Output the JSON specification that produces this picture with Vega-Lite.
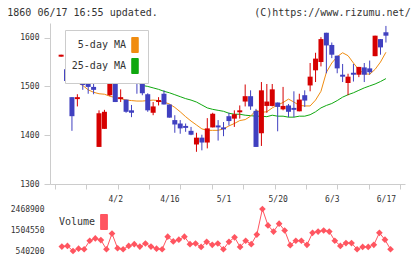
{
  "$schema": "https://vega.github.io/schema/vega-lite/v6.json",
  "padding": {"left": 7, "top": 8, "right": 0, "bottom": 0},
  "title": {"text": "1860 06/17 16:55 updated.\u00a0\u00a0\u00a0\u00a0\u00a0\u00a0\u00a0\u00a0\u00a0\u00a0\u00a0\u00a0\u00a0\u00a0\u00a0\u00a0(C)https://www.rizumu.net/", "anchor": "start", "frame": "bounds", "dx": -3, "offset": 5},
  "data": {"values": [
    {"i":1,"o":1561,"h":1565,"l":1561,"c":1565,"m5":null,"m25":null,"v":null},
    {"i":2,"o":1535,"h":1543,"l":1511,"c":1511,"m5":null,"m25":1552,"v":742000},
    {"i":3,"o":1478,"h":1478,"l":1409,"c":1439,"m5":1519,"m25":1549,"v":775000},
    {"i":4,"o":1474,"h":1484,"l":1459,"c":1478,"m5":1508,"m25":1546,"v":540200},
    {"i":5,"o":1514,"h":1519,"l":1493,"c":1503,"m5":1502,"m25":1543,"v":648000},
    {"i":6,"o":1512,"h":1512,"l":1485,"c":1499,"m5":1493,"m25":1540,"v":620000},
    {"i":7,"o":1499,"h":1507,"l":1484,"c":1493,"m5":1488,"m25":1537,"v":1010000},
    {"i":8,"o":1376,"h":1451,"l":1376,"c":1445,"m5":1485,"m25":1534,"v":1119000},
    {"i":9,"o":1413,"h":1452,"l":1413,"c":1448,"m5":1484,"m25":1531,"v":1043000},
    {"i":10,"o":1482,"h":1519,"l":1480,"c":1519,"m5":1480,"m25":1528,"v":620000},
    {"i":11,"o":1519,"h":1536,"l":1468,"c":1468,"m5":1477,"m25":1525,"v":1340000},
    {"i":12,"o":1474,"h":1494,"l":1468,"c":1478,"m5":1475,"m25":1522,"v":667000},
    {"i":13,"o":1473,"h":1473,"l":1446,"c":1448,"m5":1472,"m25":1519,"v":620000},
    {"i":14,"o":1451,"h":1462,"l":1437,"c":1446,"m5":1471,"m25":1516,"v":775000},
    {"i":15,"o":1509,"h":1518,"l":1485,"c":1505,"m5":1470,"m25":1509,"v":855000},
    {"i":16,"o":1508,"h":1512,"l":1482,"c":1486,"m5":1470,"m25":1502,"v":742000},
    {"i":17,"o":1484,"h":1486,"l":1448,"c":1451,"m5":1471,"m25":1500,"v":884000},
    {"i":18,"o":1446,"h":1468,"l":1441,"c":1459,"m5":1472,"m25":1497,"v":742000},
    {"i":19,"o":1468,"h":1478,"l":1461,"c":1472,"m5":1471,"m25":1494,"v":648000},
    {"i":20,"o":1485,"h":1492,"l":1463,"c":1463,"m5":1468,"m25":1490,"v":620000},
    {"i":21,"o":1463,"h":1463,"l":1436,"c":1436,"m5":1464,"m25":1487,"v":1199000},
    {"i":22,"o":1431,"h":1441,"l":1405,"c":1422,"m5":1457,"m25":1483,"v":978000},
    {"i":23,"o":1424,"h":1431,"l":1403,"c":1414,"m5":1448,"m25":1479,"v":1058000},
    {"i":24,"o":1419,"h":1424,"l":1407,"c":1415,"m5":1438,"m25":1475,"v":1199000},
    {"i":25,"o":1409,"h":1417,"l":1400,"c":1401,"m5":1429,"m25":1472,"v":855000},
    {"i":26,"o":1381,"h":1405,"l":1366,"c":1395,"m5":1421,"m25":1468,"v":884000},
    {"i":27,"o":1395,"h":1401,"l":1369,"c":1385,"m5":1413,"m25":1462,"v":728000},
    {"i":28,"o":1385,"h":1435,"l":1373,"c":1414,"m5":1410,"m25":1456,"v":964000},
    {"i":29,"o":1416,"h":1446,"l":1416,"c":1444,"m5":1410,"m25":1453,"v":822000},
    {"i":30,"o":1420,"h":1431,"l":1389,"c":1416,"m5":1410,"m25":1451,"v":884000},
    {"i":31,"o":1416,"h":1427,"l":1398,"c":1412,"m5":1413,"m25":1449,"v":620000},
    {"i":32,"o":1439,"h":1446,"l":1420,"c":1429,"m5":1419,"m25":1445,"v":964000},
    {"i":33,"o":1434,"h":1451,"l":1417,"c":1443,"m5":1424,"m25":1443,"v":1166000},
    {"i":34,"o":1447,"h":1461,"l":1434,"c":1451,"m5":1430,"m25":1443,"v":728000},
    {"i":35,"o":1469,"h":1504,"l":1459,"c":1480,"m5":1432,"m25":1441,"v":1011000},
    {"i":36,"o":1480,"h":1492,"l":1452,"c":1459,"m5":1439,"m25":1440,"v":855000},
    {"i":37,"o":1450,"h":1454,"l":1376,"c":1376,"m5":1451,"m25":1439,"v":1293000},
    {"i":38,"o":1404,"h":1509,"l":1378,"c":1492,"m5":1447,"m25":1439,"v":2468900},
    {"i":39,"o":1460,"h":1505,"l":1446,"c":1469,"m5":1448,"m25":1438,"v":1716000},
    {"i":40,"o":1460,"h":1505,"l":1459,"c":1494,"m5":1456,"m25":1441,"v":1434000},
    {"i":41,"o":1467,"h":1467,"l":1408,"c":1458,"m5":1462,"m25":1439,"v":1796000},
    {"i":42,"o":1453,"h":1499,"l":1451,"c":1460,"m5":1467,"m25":1439,"v":1481000},
    {"i":43,"o":1461,"h":1464,"l":1437,"c":1448,"m5":1474,"m25":1437,"v":808000},
    {"i":44,"o":1456,"h":1490,"l":1437,"c":1452,"m5":1468,"m25":1437,"v":1011000},
    {"i":45,"o":1449,"h":1485,"l":1449,"c":1473,"m5":1461,"m25":1439,"v":1011000},
    {"i":46,"o":1482,"h":1492,"l":1458,"c":1471,"m5":1460,"m25":1439,"v":822000},
    {"i":47,"o":1502,"h":1548,"l":1490,"c":1520,"m5":1460,"m25":1442,"v":1373000},
    {"i":48,"o":1533,"h":1569,"l":1509,"c":1557,"m5":1472,"m25":1448,"v":1434000},
    {"i":49,"o":1550,"h":1601,"l":1541,"c":1597,"m5":1490,"m25":1456,"v":1481000},
    {"i":50,"o":1610,"h":1610,"l":1527,"c":1584,"m5":1529,"m25":1461,"v":1434000},
    {"i":51,"o":1585,"h":1590,"l":1558,"c":1565,"m5":1548,"m25":1465,"v":1011000},
    {"i":52,"o":1563,"h":1563,"l":1527,"c":1537,"m5":1561,"m25":1471,"v":775000},
    {"i":53,"o":1524,"h":1546,"l":1509,"c":1520,"m5":1569,"m25":1478,"v":902000},
    {"i":54,"o":1507,"h":1526,"l":1482,"c":1520,"m5":1563,"m25":1483,"v":902000},
    {"i":55,"o":1528,"h":1546,"l":1510,"c":1524,"m5":1548,"m25":1487,"v":620000},
    {"i":56,"o":1524,"h":1540,"l":1519,"c":1540,"m5":1534,"m25":1492,"v":728000},
    {"i":57,"o":1539,"h":1548,"l":1509,"c":1524,"m5":1526,"m25":1497,"v":728000},
    {"i":58,"o":1537,"h":1553,"l":1524,"c":1529,"m5":1525,"m25":1501,"v":822000},
    {"i":59,"o":1562,"h":1604,"l":1562,"c":1604,"m5":1535,"m25":1505,"v":1373000},
    {"i":60,"o":1597,"h":1597,"l":1565,"c":1580,"m5":1550,"m25":1510,"v":1058000},
    {"i":61,"o":1611,"h":1624,"l":1590,"c":1604,"m5":1570,"m25":1516,"v":620000}
  ]},
  "spacing": 2,
  "resolve": {"scale": {"color": "independent"}, "legend": {"color": "independent"}},
  "vconcat": [
    {
      "width": 355, "height": 161,
      "encoding": {
        "x": {"field": "i", "type": "quantitative",
          "scale": {"domain": [-0.131, 63.6], "nice": false, "zero": false},
          "axis": {
            "values": [-0.131, 5.663, 11.457, 17.251, 23.045, 28.839, 34.633, 40.427, 46.221, 52.015, 57.809, 63.6, 11, 21, 31, 41, 51, 61],
            "labelExpr": "datum.value==11?'4/2':datum.value==21?'4/16':datum.value==31?'5/1':datum.value==41?'5/20':datum.value==51?'6/3':datum.value==61?'6/17':''",
            "tickOpacity": {"condition": {"test": "datum.value % 10 == 1", "value": 0}, "value": 1},
            "tickSize": 5, "labelPadding": 6, "labelOverlap": false, "labelFlush": false
          }
        }
      },
      "layer": [
        {"mark": {"type": "line", "strokeWidth": 1},
         "encoding": {
           "y": {"field": "m25", "type": "quantitative", "scale": {"domain": [1300, 1630], "nice": false, "zero": false},
                 "axis": {"values": [1300, 1400, 1500, 1600], "format": "d", "tickSize": 6, "labelPadding": 5}},
           "color": {"datum": "25-day MA", "type": "nominal",
             "scale": {"domain": ["5-day MA", "25-day MA"], "range": ["#f08c10", "#10a810"]},
             "legend": {"orient": "none", "legendX": 15, "legendY": 7, "title": null,
               "fillColor": "white", "strokeColor": "#ccc", "padding": 7, "rowPadding": 1,
               "labelAlign": "right", "labelOffset": -17, "symbolOffset": 55,
               "symbolType": "M-0.43,-1H0.43V1H-0.43Z", "symbolSize": 225,
               "encode": {"symbols": {"update": {"fill": {"signal": "datum.value === '5-day MA' ? '#f08c10' : '#10a810'"}, "stroke": {"value": "#444"}, "strokeWidth": {"value": 1}, "opacity": {"value": 1}}}}}}
         }},
        {"mark": {"type": "line", "strokeWidth": 1},
         "encoding": {"y": {"field": "m5", "type": "quantitative"}, "color": {"datum": "5-day MA", "type": "nominal"}}},
        {"mark": {"type": "rule", "strokeWidth": 1},
         "encoding": {"y": {"field": "l", "type": "quantitative"}, "y2": {"field": "h"},
           "color": {"condition": {"test": "datum.c > datum.o", "value": "#d60000"}, "value": "#4040c0"}}},
        {"mark": {"type": "bar", "width": 5},
         "encoding": {"y": {"field": "o", "type": "quantitative"}, "y2": {"field": "c"},
           "color": {"condition": {"test": "datum.c > datum.o", "value": "#d60000"}, "value": "#4040c0"}}}
      ]
    },
    {
      "width": 355, "height": 42,
      "encoding": {
        "x": {"field": "i", "type": "quantitative", "scale": {"domain": [-0.131, 63.6], "nice": false, "zero": false}, "axis": null},
        "y": {"field": "v", "type": "quantitative", "scale": {"domain": [540200, 2468900], "nice": false, "zero": false},
              "axis": {"values": [540200, 1504550, 2468900], "format": "d", "domain": false, "ticks": false, "tickSize": 0, "labelPadding": 6}}
      },
      "layer": [
        {"mark": {"type": "line", "strokeWidth": 1},
         "encoding": {"color": {"datum": "Volume", "type": "nominal", "scale": {"range": ["#ff5560"]},
           "legend": {"orient": "none", "legendX": 9, "legendY": 5, "title": null, "padding": 0,
             "labelAlign": "right", "labelOffset": -17, "symbolOffset": 37,
             "symbolType": "M-0.45,-1H0.45V1H-0.45Z", "symbolSize": 225,
             "encode": {"symbols": {"update": {"fill": {"value": "#ff5560"}, "stroke": {"value": "#444"}, "strokeWidth": {"value": 1}, "opacity": {"value": 1}}}}}}}},
        {"mark": {"type": "point", "shape": "diamond", "filled": true, "size": 45, "opacity": 1},
         "encoding": {"color": {"datum": "Volume", "type": "nominal"}}}
      ]
    }
  ],
  "config": {
    "view": {"stroke": null},
    "axis": {"labelFont": "DejaVu Sans Mono", "labelFontSize": 8, "labelColor": "#333", "domainColor": "#ccc", "tickColor": "#ccc", "grid": false, "title": null},
    "legend": {"labelFont": "DejaVu Sans Mono", "labelFontSize": 10, "labelColor": "#333"},
    "title": {"font": "DejaVu Sans Mono", "fontSize": 10, "fontWeight": "normal", "color": "#333"}
  }
}
